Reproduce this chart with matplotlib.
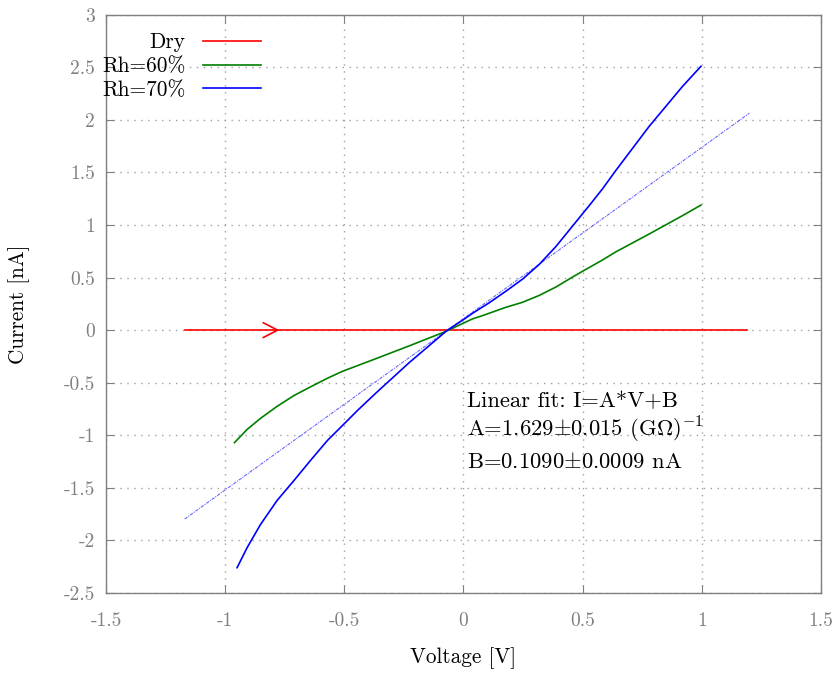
import numpy as np
import matplotlib
matplotlib.use("Agg")
import matplotlib.pyplot as plt

plt.rcParams['font.family'] = ['cmr10', 'DejaVu Serif']
plt.rcParams['mathtext.fontset'] = 'cm'
plt.rcParams['axes.unicode_minus'] = False
plt.rcParams['axes.formatter.use_mathtext'] = True

# Dry sample: flat at zero
dry_v = [-1.17, 1.19]
dry_i = [0.0, 0.0]

# Rh = 60%
rh60_v = [-0.961, -0.908, -0.852, -0.782, -0.711, -0.642, -0.571, -0.508, -0.368,
          -0.228, -0.088, -0.07, 0.038, 0.08, 0.178, 0.248, 0.318, 0.388, 0.458,
          0.5, 0.584, 0.64, 0.78, 0.92, 0.997]
rh60_i = [-1.07, -0.945, -0.84, -0.725, -0.622, -0.54, -0.458, -0.392, -0.272,
          -0.150, -0.025, -0.008, 0.107, 0.138, 0.217, 0.265, 0.33, 0.41, 0.505,
          0.56, 0.668, 0.745, 0.915, 1.09, 1.19]

# Rh = 70%
rh70_v = [-0.950, -0.908, -0.852, -0.782, -0.711, -0.642, -0.571, -0.50, -0.445,
          -0.368, -0.228, -0.088, -0.07, 0.0, 0.038, 0.08, 0.108, 0.178, 0.248,
          0.318, 0.388, 0.458, 0.5, 0.528, 0.584, 0.64, 0.78, 0.92, 0.997]
rh70_i = [-2.26, -2.07, -1.85, -1.62, -1.43, -1.24, -1.05, -0.89, -0.765,
          -0.60, -0.31, -0.04, -0.005, 0.10, 0.16, 0.22, 0.26, 0.37, 0.485,
          0.625, 0.795, 0.99, 1.107, 1.185, 1.345, 1.52, 1.94, 2.32, 2.51]

# linear fit I = A*V + B
fit_A = 1.629
fit_B = 0.1090
fit_range = [-1.17, 1.2]

fig = plt.figure(figsize=(8.35, 6.73), dpi=100)
ax = fig.add_axes([0.127, 0.119, 0.856, 0.859])

ax.plot(dry_v, dry_i, color='#ff0000', lw=1.2, label='Dry')
ax.plot(rh60_v, rh60_i, color='#008000', lw=1.2, label='Rh=60%')
ax.plot(rh70_v, rh70_i, color='#0000ff', lw=1.2, label='Rh=70%')

fv = np.array(fit_range)
ax.plot(fv, fit_A * fv + fit_B, color='#0000ff', lw=0.8, alpha=0.6,
        linestyle=(0, (3, 1, 1, 1)))

# sweep direction arrow on the dry curve
ax.plot([-0.84, -0.78, -0.84], [0.07, 0.0, -0.07], color='#ff0000', lw=1.2)

ax.set_xlim(-1.5, 1.5)
ax.set_ylim(-2.5, 3)
ax.set_xticks(np.arange(-1.5, 1.51, 0.5))
ax.set_yticks(np.arange(-2.5, 3.01, 0.5))
ax.set_xticklabels(['-1.5', '-1', '-0.5', '0', '0.5', '1', '1.5'])
ax.set_yticklabels(['-2.5', '-2', '-1.5', '-1', '-0.5', '0', '0.5', '1', '1.5',
                    '2', '2.5', '3'])
ax.tick_params(direction='in', top=True, right=True, length=6, width=0.8,
               color='#808080', labelcolor='#808080', labelsize=14, pad=8)
ax.tick_params(axis='x', pad=14)
for s in ax.spines.values():
    s.set_color('#808080')
    s.set_linewidth(1.0)
ax.grid(True, color='#a0a0a0', linestyle=(0, (1, 4)), linewidth=1.0)

ax.set_xlabel('Voltage [V]', fontsize=15.3, labelpad=12)
ax.set_ylabel('Current [nA]', fontsize=15.3, labelpad=24)

ax.text(0.015, -0.675, 'Linear fit: I=A*V+B', fontsize=16.3, va='center')
ax.text(0.015, -0.95, r'A=1.629$\pm$0.015 (G$\Omega$)$^{\mathregular{-1}}$',
        fontsize=16.3, va='center')
ax.text(0.015, -1.25, r'B=0.1090$\pm$0.0009 nA', fontsize=16.3, va='center')

leg = ax.legend(loc='upper left', frameon=False, markerfirst=False, fontsize=15.4,
                handlelength=2.7, handletextpad=0.8, borderaxespad=0.3,
                labelspacing=0.2, bbox_to_anchor=(-0.026, 0.995))
for t in leg.get_texts():
    t.set_ha('right')
leg._legend_box.align = 'right'

fig.savefig('out.png', dpi=100)
